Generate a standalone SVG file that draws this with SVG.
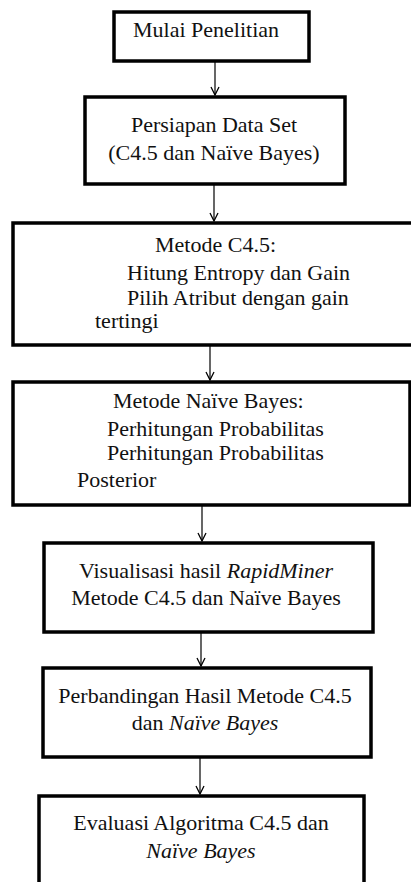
<svg xmlns="http://www.w3.org/2000/svg" width="411" height="882" viewBox="0 0 411 882">
<style>
.box{fill:#fff;stroke:#000;stroke-width:3.5}
text{font-family:'Liberation Serif','Times New Roman','DejaVu Serif',serif;font-size:22px;fill:#111}
.c{text-anchor:middle}
.i{font-style:italic}
.con{stroke:#000;stroke-width:1.2;fill:none}
</style>
<defs>
<marker id="arr" markerWidth="10" markerHeight="10" refX="9" refY="5" orient="auto" markerUnits="userSpaceOnUse">
<path d="M1,1 L9,5 L1,9" fill="none" stroke="#000" stroke-width="1.3"/>
</marker>
</defs>
<rect width="411" height="882" fill="#fff"/>
<g id="connectors">
<line class="con" x1="215" y1="62" x2="215" y2="95" marker-end="url(#arr)"/>
<line class="con" x1="214" y1="185" x2="214" y2="221" marker-end="url(#arr)"/>
<line class="con" x1="210" y1="346" x2="210" y2="380" marker-end="url(#arr)"/>
<line class="con" x1="202" y1="506" x2="202" y2="541" marker-end="url(#arr)"/>
<line class="con" x1="201" y1="633" x2="201" y2="666" marker-end="url(#arr)"/>
<line class="con" x1="200" y1="758" x2="200" y2="794" marker-end="url(#arr)"/>
</g>
<g id="n1">
<rect class="box" x="114" y="12" width="195" height="49"/>
<text x="133" y="37">Mulai Penelitian</text>
</g>
<g id="n2">
<rect class="box" x="85" y="97" width="260" height="87"/>
<text class="c" x="214" y="132">Persiapan Data Set</text>
<text class="c" x="214" y="160">(C4.5 dan Naïve Bayes)</text>
</g>
<g id="n3">
<rect class="box" x="13" y="223" width="405" height="122"/>
<text x="155" y="252">Metode C4.5:</text>
<text x="127" y="280">Hitung Entropy dan Gain</text>
<text x="127" y="305">Pilih Atribut dengan gain</text>
<text x="95" y="328">tertingi</text>
</g>
<g id="n4">
<rect class="box" x="13" y="382" width="397" height="123"/>
<text x="113" y="408">Metode Naïve Bayes:</text>
<text x="107" y="436">Perhitungan Probabilitas</text>
<text x="107" y="460">Perhitungan Probabilitas</text>
<text x="77" y="487">Posterior</text>
</g>
<g id="n5">
<rect class="box" x="44" y="543" width="329" height="89"/>
<text class="c" x="206" y="578">Visualisasi hasil <tspan class="i">RapidMiner</tspan></text>
<text class="c" x="206" y="605">Metode C4.5 dan Naïve Bayes</text>
</g>
<g id="n6">
<rect class="box" x="43" y="668" width="328" height="89"/>
<text class="c" x="205" y="703">Perbandingan Hasil Metode C4.5</text>
<text class="c" x="205" y="730">dan <tspan class="i">Naïve Bayes</tspan></text>
</g>
<g id="n7">
<rect class="box" x="39" y="796" width="325" height="100"/>
<text class="c" x="201" y="830">Evaluasi Algoritma C4.5 dan</text>
<text class="c i" x="201" y="858">Naïve Bayes</text>
</g>
</svg>
